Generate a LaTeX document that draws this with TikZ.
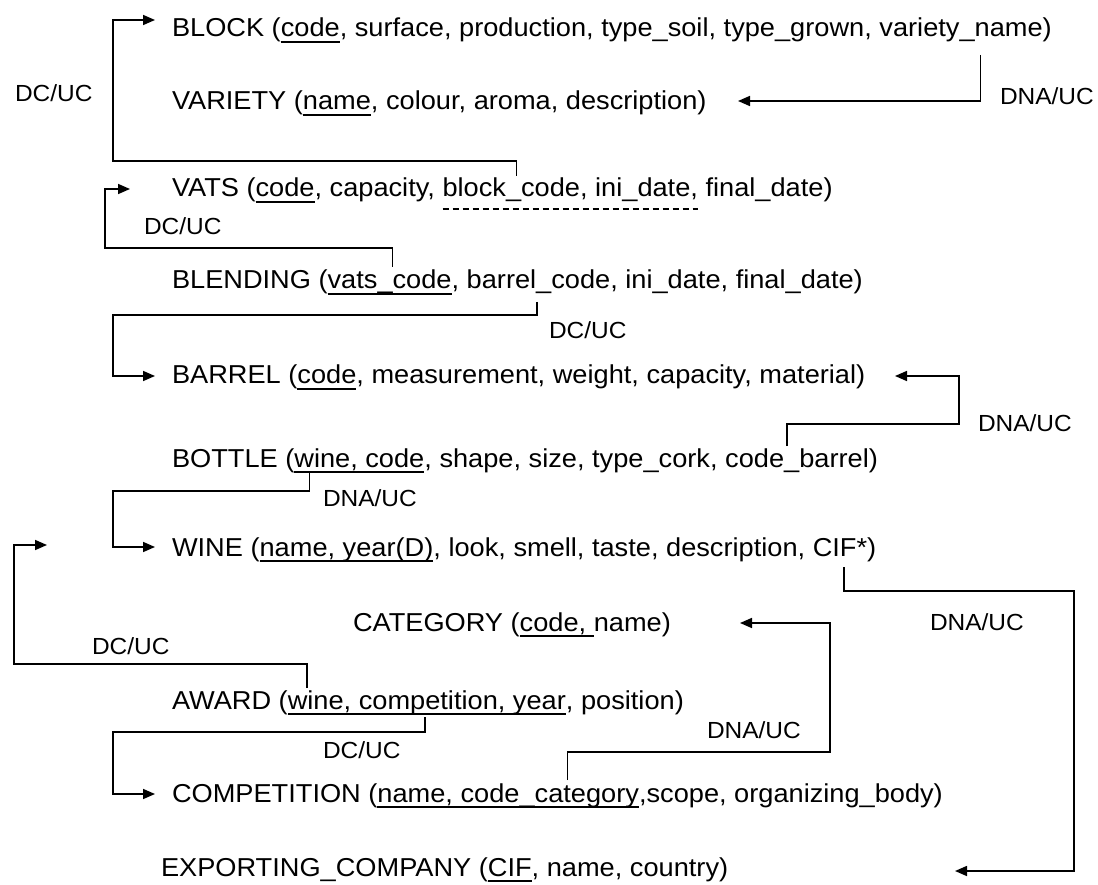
\documentclass[tikz,border=0pt]{standalone}
\usepackage{fontspec}
\setmainfont{Liberation Sans}[FakeStretch=1.05]
\usetikzlibrary{arrows.meta,calc}
\newcommand\rowfont{\fontsize{25.9}{30}\selectfont}
\newcommand\tagfont{\fontsize{23.3}{27}\selectfont}
% a word space that survives at the end of a node text
\newcommand\wsp{\kern\fontdimen2\font}
% underline a key attribute piece
\newcommand\keyline[1]{\draw[keyrule] ($(#1.base west)+(0,5)$) -- ($(#1.base east)+(0,5)$);}
\begin{document}
\begin{tikzpicture}[x=1pt,y=-1pt,
  piece/.style={inner sep=0pt,outer sep=0pt,anchor=base west,font=\rowfont},
  tag/.style={inner sep=0pt,outer sep=0pt,anchor=west,font=\tagfont},
  keyrule/.style={line width=1.4pt},
  partrule/.style={line width=1.4pt,dash pattern=on 6pt off 4pt},
  linkto/.style={line width=1.6pt,-{Triangle[length=12pt,width=10pt]}}]
\fill[white] (0,0) rectangle (1098,885);
\path[use as bounding box] (0,0) rectangle (1098,885);

% ---- relations ----
\node[piece] (b1) at (172,37) {BLOCK~(};
\node[piece] (b2) at (b1.base east) {code};
\node[piece] (b3) at (b2.base east) {,~surface, production, type\_soil, type\_grown,\wsp};
\node[piece] (b4) at (b3.base east) {variety\_name};
\node[piece] (b5) at (b4.base east) {)};
\keyline{b2}

\node[piece] (v1) at (172,110) {VARIETY~(};
\node[piece] (v2) at (v1.base east) {name};
\node[piece] (v3) at (v2.base east) {,~colour, aroma, description)};
\keyline{v2}

\node[piece] (t1) at (172,197) {VATS~(};
\node[piece] (t2) at (t1.base east) {code};
\node[piece] (t3) at (t2.base east) {,~capacity,\wsp};
\node[piece] (t4) at (t3.base east) {block\_code, ini\_date,};
\node[piece] (t5) at (t4.base east) {~final\_date)};
\keyline{t2}
\draw[partrule] ($(t4.base west)+(0,12)$) -- ($(t4.base east)+(0,12)$);

\node[piece] (l1) at (172,289) {BLENDING~(};
\node[piece] (l2) at (l1.base east) {vats\_code};
\node[piece] (l3) at (l2.base east) {,\wsp};
\node[piece] (l4) at (l3.base east) {barrel\_code, ini\_date, final\_date)};
\keyline{l2}

\node[piece] (r1) at (172,384) {BARREL~(};
\node[piece] (r2) at (r1.base east) {code};
\node[piece] (r3) at (r2.base east) {,~measurement, weight, capacity, material)};
\keyline{r2}

\node[piece] (o1) at (172,467) {BOTTLE~(};
\node[piece] (o2) at (o1.base east) {wine, code};
\node[piece] (o3) at (o2.base east) {,~shape, size, type\_cork,\wsp};
\node[piece] (o4) at (o3.base east) {code\_barrel)};
\keyline{o2}

\node[piece] (w1) at (172,556) {WINE~(};
\node[piece] (w2) at (w1.base east) {name, year(D)};
\node[piece] (w3) at (w2.base east) {,~look, smell, taste, description,\wsp};
\node[piece] (w4) at (w3.base east) {CIF*)};
\keyline{w2}

\node[piece] (c1) at (353,631) {CATEGORY~(};
\node[piece] (c2) at (c1.base east) {code,\wsp};
\node[piece] (c3) at (c2.base east) {name)};
\keyline{c2}

\node[piece] (a1) at (172,709) {AWARD~(};
\node[piece] (a2) at (a1.base east) {wine, competition, year};
\node[piece] (a3) at (a2.base east) {,~position)};
\keyline{a2}

\node[piece] (m1) at (172,802) {COMPETITION~(};
\node[piece] (m2) at (m1.base east) {name, code\_category};
\node[piece] (m3) at (m2.base east) {,scope, organizing\_body)};
\keyline{m2}

\node[piece] (e1) at (161,876) {EXPORTING\_COMPANY~(};
\node[piece] (e2) at (e1.base east) {CIF};
\node[piece] (e3) at (e2.base east) {,~name, country)};
\keyline{e2}

% ---- attachment points on the foreign keys ----
\coordinate (fkVats)    at ($(t4.base west)+(74,-21)$);
\coordinate (fkVariety) at ($(b4.base west)+(101,18)$);
\coordinate (fkBlendV)  at ($(l2.base west)+(65,-22)$);
\coordinate (fkBlendB)  at ($(l4.base west)+(70,13)$);
\coordinate (fkBottleB) at ($(o4.base west)+(62,-21)$);
\coordinate (fkBottleW) at ($(o2.base west)+(15,6)$);
\coordinate (fkAwardW)  at ($(a2.base west)+(19,-21)$);
\coordinate (fkAwardC)  at ($(a2.base west)+(137,8)$);
\coordinate (fkCompC)   at ($(m2.base west)+(190,-22)$);
\coordinate (fkWineC)   at ($(w4.base west)+(31,11)$);

% ---- bends and arrow ends ----
\coordinate (k1) at (113,161);   \coordinate (in1) at (155,20);
\coordinate (in2) at (738,101);
\coordinate (k3) at (105,248);   \coordinate (in3) at (130,189);
\coordinate (k4) at (113,315);   \coordinate (in4) at (155,376);
\coordinate (k5) at (959,424);   \coordinate (in5) at (895,376);
\coordinate (k6) at (113,491);   \coordinate (in6) at (155,547);
\coordinate (k7) at (14,664);    \coordinate (in7) at (47,545);
\coordinate (k8) at (113,732);   \coordinate (in8) at (155,794);
\coordinate (k9) at (830,752);   \coordinate (in9) at (740,623);
\coordinate (k10) at (1074,591); \coordinate (in10) at (955,871);

% ---- references ----
\draw[linkto] (fkVats) |- (k1) |- (in1);
\draw[linkto] (fkVariety) |- (in2);
\draw[linkto] (fkBlendV) |- (k3) |- (in3);
\draw[linkto] (fkBlendB) |- (k4) |- (in4);
\draw[linkto] (fkBottleB) |- (k5) |- (in5);
\draw[linkto] (fkBottleW) |- (k6) |- (in6);
\draw[linkto] (fkAwardW) |- (k7) |- (in7);
\draw[linkto] (fkAwardC) |- (k8) |- (in8);
\draw[linkto] (fkCompC) |- (k9) |- (in9);
\draw[linkto] (fkWineC) |- (k10) |- (in10);

% ---- rule labels ----
\node[tag] (n1) at (15,93) {DC/UC};
\node[tag] (n2) at (1000,96) {DNA/UC};
\node[tag] (n3) at (144,226) {DC/UC};
\node[tag] (n4) at (549,330) {DC/UC};
\node[tag] (n5) at (978,423) {DNA/UC};
\node[tag] (n6) at (323,498) {DNA/UC};
\node[tag] (n7) at (92,646) {DC/UC};
\node[tag] (n8) at (323,750) {DC/UC};
\node[tag] (n9) at (707,730) {DNA/UC};
\node[tag] (n10) at (930,622) {DNA/UC};
\end{tikzpicture}
\end{document}
